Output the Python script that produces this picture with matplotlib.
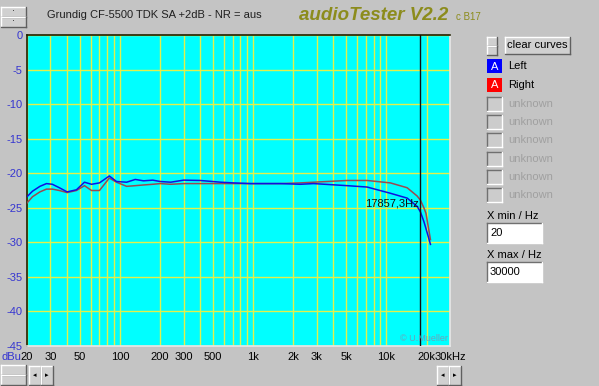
import matplotlib
matplotlib.use('Agg')
import matplotlib.pyplot as plt
from matplotlib.patches import Rectangle
from matplotlib.lines import Line2D

plt.rcParams['font.family'] = ['Liberation Sans', 'DejaVu Sans']

# ---------------- data ----------------
freq = [20, 22, 25, 28, 31, 35, 40, 47, 54, 61, 70, 83, 94, 112, 130, 150, 176,
        200, 240, 300, 400, 570, 710, 950, 1300, 1600, 2260, 2840, 5070, 7160,
        10700, 14300, 17000, 18000, 19100, 19800, 21400]
left_db = [-23.4, -22.6, -21.9, -21.5, -21.6, -22.1, -22.7, -22.4, -21.3, -21.6,
           -21.4, -20.4, -21.2, -21.3, -20.9, -21.1, -21.0, -21.2, -21.3, -21.0,
           -21.05, -21.3, -21.4, -21.5, -21.5, -21.5, -21.6, -21.5, -21.8, -22.0,
           -22.9, -23.6, -24.8, -25.6, -27.0, -28.0, -30.3]
right_db = [-24.3, -23.4, -22.7, -22.3, -22.3, -22.5, -22.8, -22.5, -21.8, -22.5,
            -22.5, -20.7, -21.3, -21.9, -21.8, -21.7, -21.6, -21.5, -21.6, -21.5,
            -21.5, -21.5, -21.5, -21.5, -21.5, -21.5, -21.4, -21.3, -21.05, -21.05,
            -21.4, -22.1, -23.3, -23.9, -25.0, -25.8, -29.6]

x_ticks = [20, 30, 50, 100, 200, 300, 500, 1000, 2000, 3000, 5000, 10000, 20000, 30000]
x_tick_labels = ['20', '30', '50', '100', '200', '300', '500', '1k', '2k', '3k',
                 '5k', '10k', '20k', '30kHz']
y_ticks = [0, -5, -10, -15, -20, -25, -30, -35, -40, -45]
y_tick_labels = ['0', '-5', '-10', '-15', '-20', '-25', '-30', '-35', '-40', '-45']
grid_freqs = [20, 30, 40, 50, 60, 70, 80, 90,
              100, 200, 300, 400, 500, 600, 700, 800, 900,
              1000, 2000, 3000, 4000, 5000, 6000, 7000, 8000, 9000,
              10000, 20000, 30000]
cursor_freq = 17857.3
cursor_label = '17857,3Hz'
cursor_label_db = -24.4

title = 'Grundig CF-5500 TDK SA +2dB - NR = aus'
legend_names = ['Left', 'Right'] + ['unknown'] * 6

# ---------------- figure ----------------
W, H = 599, 386
GRAY = '#c4c4c4'
fig = plt.figure(figsize=(W / 100, H / 100), dpi=100)
fig.patch.set_facecolor(GRAY)

bg = fig.add_axes([0, 0, 1, 1])
bg.set_xlim(0, W)
bg.set_ylim(H, 0)
bg.axis('off')


def button(x, y, w, h, face='#d0d0d0'):
    bg.add_patch(Rectangle((x, y), w, h, facecolor=face, edgecolor='none'))
    bg.add_line(Line2D([x, x + w], [y, y], color='white', lw=1))
    bg.add_line(Line2D([x, x], [y, y + h], color='white', lw=1))
    bg.add_line(Line2D([x, x + w], [y + h, y + h], color='#606060', lw=1))
    bg.add_line(Line2D([x + w, x + w], [y, y + h], color='#606060', lw=1))


def sunken(x, y, w, h, face='white'):
    bg.add_patch(Rectangle((x, y), w, h, facecolor=face, edgecolor='none'))
    bg.add_line(Line2D([x, x + w], [y, y], color='#707070', lw=1))
    bg.add_line(Line2D([x, x], [y, y + h], color='#707070', lw=1))
    bg.add_line(Line2D([x, x + w], [y + h, y + h], color='white', lw=1))
    bg.add_line(Line2D([x + w, x + w], [y, y + h], color='white', lw=1))


# top-left spinner
button(1, 7, 25, 10)
button(1, 17, 25, 10)
bg.text(13.5, 12, '·', ha='center', va='center', fontsize=6)
bg.text(13.5, 22, '·', ha='center', va='center', fontsize=6)

# title texts
bg.text(47, 15.5, title, ha='left', va='center', fontsize=8, color='#202020')
bg.text(299, 15, 'audioTester V2.2', ha='left', va='center', fontsize=13.5,
        fontweight='bold', fontstyle='italic', color='#8c8c1c')
bg.text(456, 17, 'c B17', ha='left', va='center', fontsize=7, color='#8c8c1c')

# right panel
button(487, 37, 10, 9)
button(487, 46, 10, 9)
button(505, 37, 65, 17)
bg.text(537.5, 45.5, 'clear curves', ha='center', va='center', fontsize=8)

square_colors = ['#0000ff', '#ff0000']
row_y = [59, 78, 97, 115, 133, 152, 170, 188]
for i, name in enumerate(legend_names):
    y = row_y[i]
    if i < 2:
        bg.add_patch(Rectangle((487, y), 15, 14, facecolor=square_colors[i],
                               edgecolor='none'))
        bg.text(494.5, y + 7.5, 'A', ha='center', va='center', fontsize=8,
                color='white')
        bg.text(508, y + 7, name, ha='left', va='center', fontsize=8,
                color='black')
    else:
        sunken(487, y, 15, 14, face='#cccccc')
        bg.text(508, y + 7, name, ha='left', va='center', fontsize=8,
                color='#a0a0a0')

bg.text(487, 216, 'X min / Hz', ha='left', va='center', fontsize=8)
sunken(487, 223, 55, 20)
bg.text(490, 233.5, '20', ha='left', va='center', fontsize=8)
bg.text(487, 255, 'X max / Hz', ha='left', va='center', fontsize=8)
sunken(487, 262, 55, 20)
bg.text(490, 272, '30000', ha='left', va='center', fontsize=8)

# bottom scroll controls
button(1, 365, 25, 10)
button(1, 375, 25, 10)
button(29, 366, 12, 19)
button(41, 366, 12, 19)
bg.text(35, 375.5, '◂', ha='center', va='center', fontsize=5)
bg.text(47, 375.5, '▸', ha='center', va='center', fontsize=5)
button(437, 366, 12, 19)
button(449, 366, 12, 19)
bg.text(443, 375.5, '◂', ha='center', va='center', fontsize=5)
bg.text(455, 375.5, '▸', ha='center', va='center', fontsize=5)

bg.text(2, 357, 'dBu', ha='left', va='center', fontsize=8, color='#3535d0')

# ---------------- main plot ----------------
L, R, T, B = 27, 450, 35, 346
ax = fig.add_axes([L / W, 1 - B / H, (R - L) / W, (B - T) / H])
ax.set_facecolor('#00ffff')
ax.set_xscale('log')
ax.set_xlim(20, 30000)
ax.set_ylim(-45, 0)

for f in grid_freqs:
    ax.axvline(f, color='#e4f04a', lw=1, zorder=1)
for v in y_ticks:
    ax.axhline(v, color='#e4f04a', lw=1, zorder=1)

ax.plot(freq, right_db, color='#9a4a50', lw=1.1, zorder=3)
ax.plot(freq, left_db, color='#1010e0', lw=1.1, zorder=4)

ax.axvline(cursor_freq, color='#101010', lw=1, zorder=5)
ax.text(cursor_freq * 0.985, cursor_label_db, cursor_label, ha='right',
        va='center', fontsize=8, color='#101010', zorder=6)

ax.text(0.995, 0.01, '© U.Mueller', transform=ax.transAxes, ha='right',
        va='bottom', fontsize=6.5, color='#70a0b8', zorder=6)

ax.set_xticks(x_ticks)
ax.set_xticklabels(x_tick_labels)
ax.minorticks_off()
ax.set_yticks(y_ticks)
ax.set_yticklabels(y_tick_labels)
ax.tick_params(axis='x', length=0, pad=4, labelsize=8, labelcolor='black')
ax.tick_params(axis='y', length=0, pad=3, labelsize=8, labelcolor='#3535d0')

ax.spines['left'].set_color('#202000')
ax.spines['top'].set_color('#202000')
ax.spines['right'].set_color('#e8e8e8')
ax.spines['bottom'].set_color('#e8e8e8')
for s in ax.spines.values():
    s.set_linewidth(1.2)

fig.savefig('out.png', dpi=100, facecolor=fig.get_facecolor())
